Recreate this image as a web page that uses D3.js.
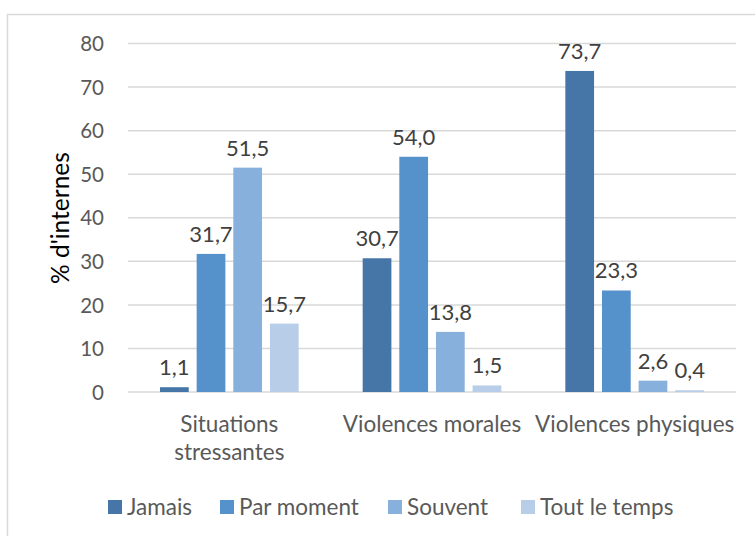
<!DOCTYPE html>
<html><head><meta charset="utf-8">
<script src="https://cdn.jsdelivr.net/npm/d3@7"></script>
<style>body{margin:0;background:#fff}svg{display:block}</style>
</head><body>
<script>
const categories = [["Situations","stressantes"],["Violences morales"],["Violences physiques"]];
const categoryKeys = ["Situations stressantes","Violences morales","Violences physiques"];
const seriesNames = ["Jamais","Par moment","Souvent","Tout le temps"];
const jamais = [1.1, 30.7, 73.7];
const parMoment = [31.7, 54.0, 23.3];
const souvent = [51.5, 13.8, 2.6];
const toutLeTemps = [15.7, 1.5, 0.4];
const yTicks = [0,10,20,30,40,50,60,70,80];
const colors = ["#4676A8","#5591CB","#88B0DD","#B8CDE8"];

const seriesValues = [jamais, parMoment, souvent, toutLeTemps];
const W = 755, H = 536;
const FONT = "Lato, 'Open Sans', sans-serif";
const svg = d3.select("body").append("svg").attr("width", W).attr("height", H);
svg.append("rect").attr("x",7.5).attr("y",14.5).attr("width",W+10).attr("height",H)
  .attr("fill","#fff").attr("stroke","#d9d9d9").attr("stroke-width",1.5);

const y = d3.scaleLinear().domain([0,80]).range([392,43.5]);
const x0 = d3.scaleBand().domain(categoryKeys).range([128,736]);
const x1 = d3.scaleBand().domain(seriesNames).range([32, x0.bandwidth()-32]).paddingInner(8/37);

// gridlines
svg.append("g").selectAll("line").data(yTicks).join("line")
  .attr("x1",128).attr("x2",736).attr("y1",d=>y(d)).attr("y2",d=>y(d))
  .attr("stroke","#d9d9d9").attr("stroke-width",1.5);

// y axis labels
const yAxis = d3.axisLeft(y).tickValues(yTicks).tickSize(0).tickPadding(0).tickFormat(d3.format("d"));
const ya = svg.append("g").attr("transform","translate(104,0)").call(yAxis);
ya.select(".domain").remove();
ya.selectAll("text").attr("font-family",FONT).attr("font-size",20.5).attr("fill","#595959").attr("dy","0.35em");

// bars
const groups = svg.append("g").selectAll("g").data(categoryKeys).join("g")
  .attr("transform", d=>`translate(${x0(d)},0)`);
groups.each(function(cat, ci){
  const g = d3.select(this);
  const data = seriesNames.map((s,si)=>({s, si, v: seriesValues[si][ci]}));
  g.selectAll("rect").data(data).join("rect")
    .attr("x",d=>x1(d.s)).attr("width",x1.bandwidth())
    .attr("y",d=>y(d.v)).attr("height",d=>y(0)-y(d.v))
    .attr("fill",d=>colors[d.si]);
  g.selectAll("text").data(data).join("text")
    .attr("x",d=>x1(d.s)+x1.bandwidth()/2).attr("y",d=>y(d.v)-12)
    .attr("text-anchor","middle").attr("font-family",FONT).attr("font-size",22)
    .attr("fill","#404040").text(d=>d3.format(".1f")(d.v).replace(".",","));
});

// category labels
const xAxis = svg.append("g");
categoryKeys.forEach((k,i)=>{
  const t = xAxis.append("text").attr("x",x0(k)+x0.bandwidth()/2).attr("y",432)
    .attr("text-anchor","middle").attr("font-family",FONT).attr("font-size",22.5).attr("fill","#595959");
  categories[i].forEach((line,li)=>{
    t.append("tspan").attr("x",x0(k)+x0.bandwidth()/2).attr("dy",li===0?0:28).text(line);
  });
});

// y title
svg.append("text").attr("transform","translate(69,218) rotate(-90)")
  .attr("text-anchor","middle").attr("font-family",FONT).attr("font-size",24.5).attr("fill","#000")
  .text("% d'internes");

// legend
const legendX = [108,220,388,521];
const lg = svg.append("g").selectAll("g").data(seriesNames).join("g")
  .attr("transform",(d,i)=>`translate(${legendX[i]},507)`);
lg.append("rect").attr("x",0).attr("y",-7).attr("width",14).attr("height",14).attr("fill",(d,i)=>colors[i]);
lg.append("text").attr("x",19).attr("y",0).attr("dy","0.35em").attr("font-family",FONT).attr("font-size",22.5)
  .attr("fill","#595959").text(d=>d);
</script>
</body></html>
